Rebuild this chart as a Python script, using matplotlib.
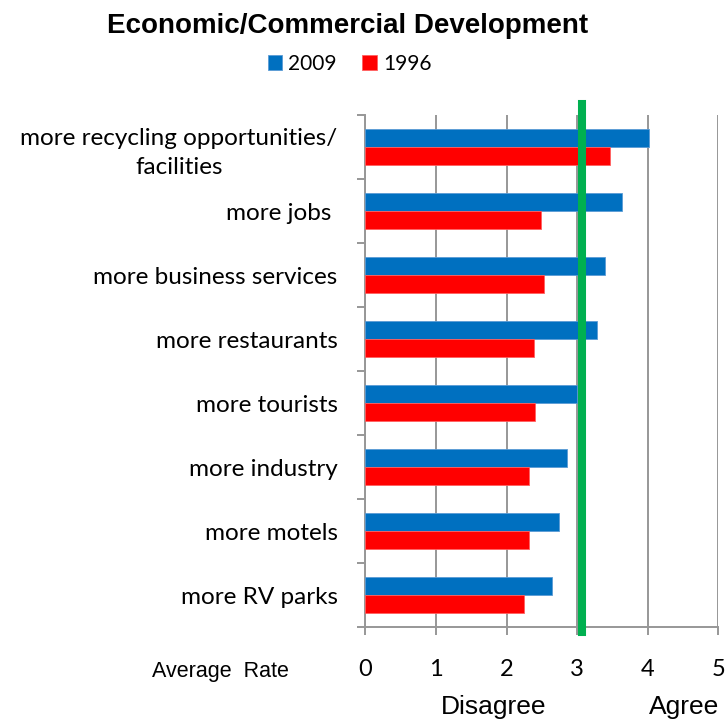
import numpy as np
import matplotlib.pyplot as plt

# Survey data (average rating, 0 = disagree .. 5 = agree)
categories = [
    "more recycling opportunities/\nfacilities",
    "more jobs ",
    "more business services",
    "more restaurants",
    "more tourists",
    "more industry",
    "more motels",
    "more RV parks",
]
rate_2009 = [4.01, 3.64, 3.40, 3.28, 3.00, 2.85, 2.74, 2.64]
rate_1996 = [3.46, 2.48, 2.53, 2.39, 2.40, 2.32, 2.32, 2.25]
neutral = 3.07
x_ticks = [0, 1, 2, 3, 4, 5]

fig = plt.figure(figsize=(7.25, 7.2), dpi=100)
ax = fig.add_axes([0.504, 0.129, 0.487, 0.711])

n = len(categories)
# top category first
centers = np.arange(n)[::-1] + 0.5
bar_h = 0.285

ax.barh(centers + bar_h / 2, rate_2009, height=bar_h, color='#0070C0',
        edgecolor='#5B9BD5', linewidth=0.6, label='2009', zorder=3)
ax.barh(centers - bar_h / 2, rate_1996, height=bar_h, color='#FF0000',
        edgecolor='#FF6060', linewidth=0.6, label='1996', zorder=3)

# neutral line, sticks out a little past the plot area
ax.axvline(neutral, ymin=-0.01, ymax=1.0215, color='#00B050', linewidth=5.8,
           clip_on=False, zorder=4)

ax.set_xlim(0, 5)
ax.set_ylim(0, n)
ax.set_xticks(x_ticks)
ax.set_xticklabels([str(t) for t in x_ticks], fontsize=17, fontfamily='Lato')
ax.xaxis.grid(True, color='#979797', linewidth=1.4, zorder=0)
ax.tick_params(axis='x', length=6, width=1.4, color='#979797', pad=17)

ax.set_yticks(centers)
ax.set_yticklabels(categories, fontsize=17.5, fontfamily='Lato',
                   multialignment='center', linespacing=1.45)
ax.set_yticks(np.arange(n + 1), minor=True)
ax.tick_params(axis='y', which='major', length=0, pad=20)
ax.tick_params(axis='y', which='minor', length=6, width=1.4, color='#979797')

for side in ['top', 'right']:
    ax.spines[side].set_visible(False)
for side in ['left', 'bottom']:
    ax.spines[side].set_color('#979797')
    ax.spines[side].set_linewidth(1.4)

fig.text(0.48, 0.964, 'Economic/Commercial Development', ha='center',
         va='center', fontsize=20, fontweight='bold',
         fontfamily='Liberation Sans')
fig.legend(loc='center', bbox_to_anchor=(0.482, 0.911), ncol=2, frameon=False,
           prop={'family': 'Lato', 'size': 15}, handlelength=0.7,
           handleheight=0.7, handletextpad=0.3, columnspacing=1.2)

fig.text(0.304, 0.068, 'Average  Rate', ha='center', va='center',
         fontsize=15.5, fontfamily='Liberation Sans')
fig.text(0.681, 0.018, 'Disagree', ha='center', va='center', fontsize=19,
         fontfamily='Liberation Sans')
fig.text(0.943, 0.018, 'Agree', ha='center', va='center', fontsize=19,
         fontfamily='Liberation Sans')

fig.savefig('out.png', dpi=100)
